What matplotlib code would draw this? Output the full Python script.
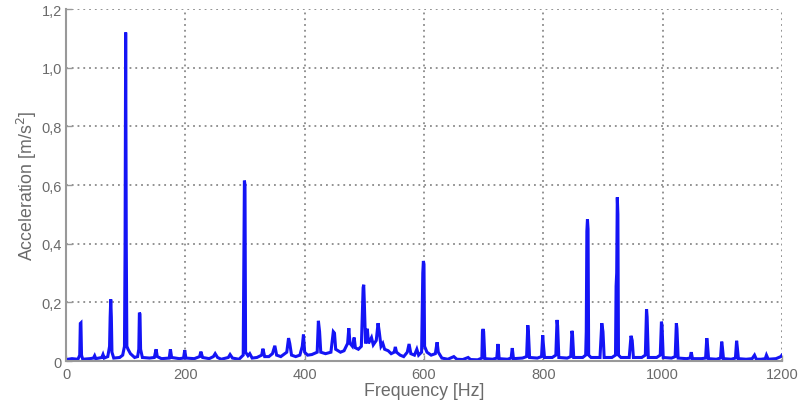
import matplotlib
matplotlib.use("Agg")
import matplotlib.pyplot as plt
from matplotlib.ticker import FuncFormatter

# Spectrum polyline
freq_hz = [
    0, 10, 20, 23, 24, 25, 26, 28, 40, 46, 48, 50, 60, 62, 64, 70, 73, 74, 75, 76, 77, 80,
    90, 95, 98, 99, 100, 101, 102, 104, 108, 115, 120, 122, 123, 124, 125, 128,
    140, 148, 151, 153, 160, 173, 175, 177, 190, 197, 199, 201, 215, 224, 226, 229,
    240, 247, 250, 254, 260, 272, 275, 279, 290, 297, 298, 299, 300, 301, 305, 308, 312,
    320, 328, 330, 333, 340, 346, 350, 353, 360, 370, 373, 375, 378, 385, 392, 396, 398,
    400, 405, 412, 421, 423, 425, 427, 435, 444, 448, 450, 452, 460, 466, 472, 474, 476,
    480, 483, 485, 490, 495, 498, 499, 500, 502, 505, 507, 512, 515, 520, 523, 525, 528,
    531, 534, 540, 545, 550, 552, 554, 560, 566, 572, 575, 578, 584, 588, 591, 596, 598,
    599, 600, 601, 605, 612, 619, 622, 624, 630, 640, 650, 655, 665, 674, 678, 690, 697,
    698, 699, 700, 702, 715, 722, 724, 726, 740, 746, 748, 750, 765, 772, 774, 775, 777,
    790, 797, 799, 800, 802, 815, 821, 823, 824, 826, 840, 846, 848, 849, 851, 866, 871,
    872, 873, 874, 875, 876, 880, 895, 898, 900, 902, 915, 921, 922, 923, 924, 925, 926,
    930, 944, 947, 949, 951, 965, 971, 973, 974, 976, 990, 996, 998, 999, 1001, 1015,
    1021, 1023, 1024, 1026, 1040, 1046, 1048, 1050, 1065, 1072, 1074, 1075, 1077, 1090,
    1097, 1099, 1100, 1102, 1115, 1122, 1124, 1125, 1127, 1140, 1150, 1154, 1157, 1165,
    1172, 1174, 1177, 1190, 1198, 1200,
]
accel = [
    0.005, 0.008, 0.006, 0.02, 0.128, 0.13, 0.02, 0.006, 0.008, 0.01, 0.018, 0.008, 0.012, 0.022, 0.01, 0.015, 0.05, 0.15, 0.21, 0.15, 0.03, 0.01,
    0.012, 0.02, 0.05, 0.39, 1.12, 0.4, 0.05, 0.04, 0.025, 0.012, 0.015, 0.04, 0.165, 0.16, 0.04, 0.012,
    0.01, 0.012, 0.04, 0.015, 0.008, 0.01, 0.04, 0.012, 0.008, 0.01, 0.037, 0.01, 0.008, 0.015, 0.032, 0.012,
    0.008, 0.015, 0.025, 0.012, 0.006, 0.012, 0.022, 0.01, 0.006, 0.02, 0.3, 0.615, 0.6, 0.03, 0.018, 0.025, 0.01,
    0.012, 0.02, 0.042, 0.015, 0.015, 0.025, 0.052, 0.02, 0.015, 0.03, 0.078, 0.06, 0.02, 0.015, 0.02, 0.05, 0.09,
    0.03, 0.02, 0.022, 0.03, 0.137, 0.1, 0.03, 0.025, 0.03, 0.1, 0.095, 0.04, 0.03, 0.035, 0.06, 0.112, 0.06,
    0.05, 0.08, 0.045, 0.04, 0.05, 0.25, 0.26, 0.2, 0.06, 0.11, 0.06, 0.08, 0.055, 0.07, 0.129, 0.1, 0.05,
    0.06, 0.04, 0.035, 0.025, 0.03, 0.048, 0.03, 0.02, 0.015, 0.03, 0.058, 0.025, 0.02, 0.04, 0.02, 0.03, 0.3,
    0.341, 0.33, 0.05, 0.03, 0.02, 0.025, 0.064, 0.03, 0.01, 0.006, 0.015, 0.006, 0.005, 0.012, 0.005, 0.004, 0.01,
    0.1, 0.109, 0.1, 0.008, 0.006, 0.01, 0.058, 0.008, 0.006, 0.01, 0.044, 0.008, 0.01, 0.015, 0.122, 0.1, 0.012,
    0.01, 0.015, 0.088, 0.06, 0.012, 0.012, 0.02, 0.14, 0.12, 0.012, 0.01, 0.015, 0.103, 0.09, 0.012, 0.012, 0.02,
    0.1, 0.443, 0.483, 0.45, 0.02, 0.012, 0.012, 0.129, 0.1, 0.012, 0.012, 0.02, 0.255, 0.3, 0.558, 0.5, 0.02,
    0.012, 0.012, 0.086, 0.07, 0.012, 0.012, 0.02, 0.177, 0.15, 0.012, 0.012, 0.02, 0.134, 0.12, 0.012, 0.01,
    0.015, 0.129, 0.11, 0.01, 0.008, 0.01, 0.03, 0.008, 0.008, 0.01, 0.078, 0.06, 0.008, 0.006,
    0.01, 0.066, 0.05, 0.008, 0.006, 0.01, 0.069, 0.05, 0.008, 0.006, 0.008, 0.02, 0.006, 0.006,
    0.008, 0.02, 0.006, 0.008, 0.015, 0.02,
]
x_ticks = [0, 200, 400, 600, 800, 1000, 1200]
y_ticks = [0, 0.2, 0.4, 0.6, 0.8, 1.0, 1.2]

plt.rcParams['font.family'] = ['Liberation Sans', 'DejaVu Sans']

fig = plt.figure(figsize=(8.03, 4.02), dpi=100)
ax = fig.add_axes([0.0822, 0.0995, 0.8916, 0.8755])

ax.plot(freq_hz, accel, color='#1414f5', linewidth=2.2, solid_joinstyle='miter')

ax.set_xlim(0, 1200)
ax.set_ylim(0, 1.2)
ax.set_xticks(x_ticks)
ax.set_yticks(y_ticks)

def x_fmt(v, pos):
    return '%d' % round(v)

def y_fmt(v, pos):
    if abs(v) < 1e-9:
        return '0'
    return ('%.1f' % v).replace('.', ',')

ax.xaxis.set_major_formatter(FuncFormatter(x_fmt))
ax.yaxis.set_major_formatter(FuncFormatter(y_fmt))

grey = '#8a8a8a'
ax.grid(True, color=grey, linestyle=(0, (1, 2.2)), linewidth=1.3)
ax.set_axisbelow(True)
for side in ['top', 'right']:
    ax.spines[side].set_visible(False)
for side in ['left', 'bottom']:
    ax.spines[side].set_color('#999999')
    ax.spines[side].set_linewidth(1.5)

ax.tick_params(axis='both', direction='in', length=4, width=1, color='#999999',
               labelcolor='#6a6a6a', labelsize=10.5)
ax.tick_params(axis='x', pad=4)
ax.tick_params(axis='y', pad=3)

ax.set_xlabel('Frequency [Hz]', color='#6a6a6a', fontsize=12.8, labelpad=1)
ax.set_ylabel('Acceleration [m/s$^2$]', color='#6a6a6a', fontsize=12.8, labelpad=2)

fig.savefig('out.png', dpi=100)
